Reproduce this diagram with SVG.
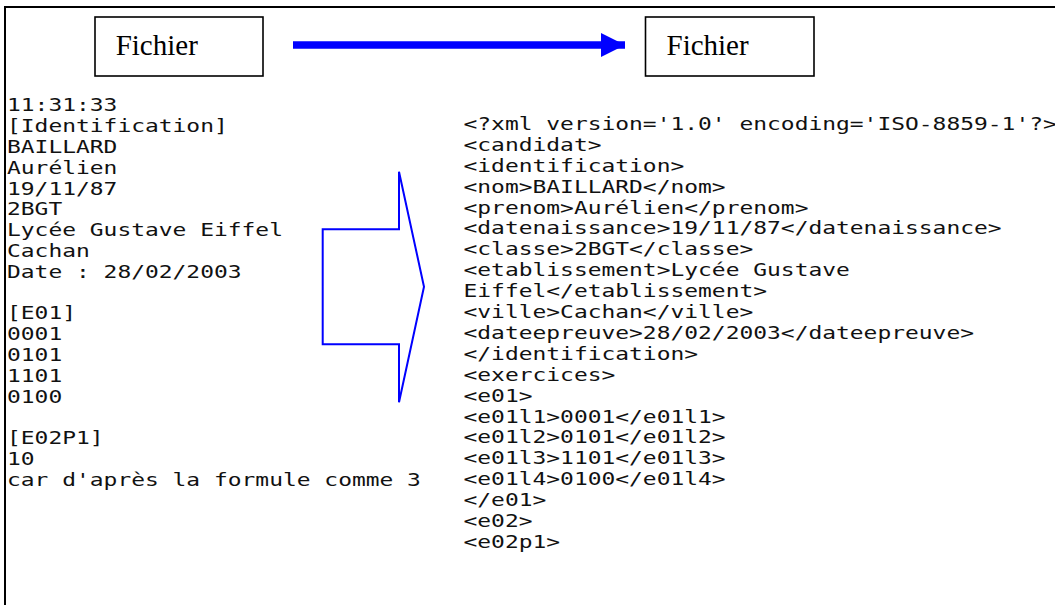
<svg xmlns="http://www.w3.org/2000/svg" width="1055" height="605" viewBox="0 0 1055 605">
  <style>
    .box { fill: #fff; stroke: #000; stroke-width: 1.6; }
    .lbl { font-family: "Liberation Serif", "Times New Roman", serif; font-size: 29px; fill: #000; }
    .mono { font-family: "DejaVu Sans Mono", "Lucida Console", monospace; font-size: 17px; fill: #111; }
    .blue { stroke: #0000FF; fill: none; }
  </style>
  <defs>
    <marker id="head" markerUnits="userSpaceOnUse" markerWidth="24" markerHeight="24" refX="24" refY="12" orient="auto" viewBox="0 0 24 24">
      <path d="M0,0 L24,12 L0,24 Z" fill="#0000FF"/>
    </marker>
  </defs>
  <rect width="1055" height="605" fill="#fff"/>
  <rect id="frame" x="5" y="7" width="1100" height="700" fill="none" stroke="#000" stroke-width="2"/>

  <g id="fichier-source">
    <rect class="box" x="95" y="17" width="168" height="59"/>
    <text class="lbl" x="115.7" y="55">Fichier</text>
  </g>

  <g id="fichier-cible">
    <rect class="box" x="645.5" y="17" width="168.5" height="59"/>
    <text class="lbl" x="666.5" y="55">Fichier</text>
  </g>

  <g id="texte-source" transform="translate(7,0) scale(1.349,1)">
    <text class="mono">
      <tspan x="0" y="111.5">11:31:33</tspan>
      <tspan x="0" y="132.3">[Identification]</tspan>
      <tspan x="0" y="153.1">BAILLARD</tspan>
      <tspan x="0" y="173.9">Aurélien</tspan>
      <tspan x="0" y="194.7">19/11/87</tspan>
      <tspan x="0" y="215.5">2BGT</tspan>
      <tspan x="0" y="236.3">Lycée Gustave Eiffel</tspan>
      <tspan x="0" y="257.1">Cachan</tspan>
      <tspan x="0" y="277.9">Date : 28/02/2003</tspan>
      <tspan x="0" y="319.5">[E01]</tspan>
      <tspan x="0" y="340.3">0001</tspan>
      <tspan x="0" y="361.1">0101</tspan>
      <tspan x="0" y="381.9">1101</tspan>
      <tspan x="0" y="402.7">0100</tspan>
      <tspan x="0" y="444.3">[E02P1]</tspan>
      <tspan x="0" y="465.1">10</tspan>
      <tspan x="0" y="485.9">car d'après la formule comme 3</tspan>
    </text>
  </g>

  <g id="texte-xml" transform="translate(463.5,0) scale(1.349,1)">
    <text class="mono">
      <tspan x="0" y="130">&lt;?xml version='1.0' encoding='ISO-8859-1'?&gt;</tspan>
      <tspan x="0" y="150.9">&lt;candidat&gt;</tspan>
      <tspan x="0" y="171.8">&lt;identification&gt;</tspan>
      <tspan x="0" y="192.7">&lt;nom&gt;BAILLARD&lt;/nom&gt;</tspan>
      <tspan x="0" y="213.6">&lt;prenom&gt;Aurélien&lt;/prenom&gt;</tspan>
      <tspan x="0" y="234.5">&lt;datenaissance&gt;19/11/87&lt;/datenaissance&gt;</tspan>
      <tspan x="0" y="255.4">&lt;classe&gt;2BGT&lt;/classe&gt;</tspan>
      <tspan x="0" y="276.3">&lt;etablissement&gt;Lycée Gustave</tspan>
      <tspan x="0" y="297.2">Eiffel&lt;/etablissement&gt;</tspan>
      <tspan x="0" y="318.1">&lt;ville&gt;Cachan&lt;/ville&gt;</tspan>
      <tspan x="0" y="339">&lt;dateepreuve&gt;28/02/2003&lt;/dateepreuve&gt;</tspan>
      <tspan x="0" y="359.9">&lt;/identification&gt;</tspan>
      <tspan x="0" y="380.8">&lt;exercices&gt;</tspan>
      <tspan x="0" y="401.7">&lt;e01&gt;</tspan>
      <tspan x="0" y="422.6">&lt;e01l1&gt;0001&lt;/e01l1&gt;</tspan>
      <tspan x="0" y="443.5">&lt;e01l2&gt;0101&lt;/e01l2&gt;</tspan>
      <tspan x="0" y="464.4">&lt;e01l3&gt;1101&lt;/e01l3&gt;</tspan>
      <tspan x="0" y="485.3">&lt;e01l4&gt;0100&lt;/e01l4&gt;</tspan>
      <tspan x="0" y="506.2">&lt;/e01&gt;</tspan>
      <tspan x="0" y="527.1">&lt;e02&gt;</tspan>
      <tspan x="0" y="548">&lt;e02p1&gt;</tspan>
    </text>
  </g>

  <g id="connecteurs">
    <line class="blue" x1="293" y1="45" x2="625" y2="45" stroke-width="7.5" marker-end="url(#head)"/>
    <polygon class="blue" stroke-width="2" stroke-linejoin="miter" points="322.7,229.3 399,229.3 399,171.7 424,286.7 399,402.3 399,344.3 322.7,344.3"/>
  </g>
</svg>
